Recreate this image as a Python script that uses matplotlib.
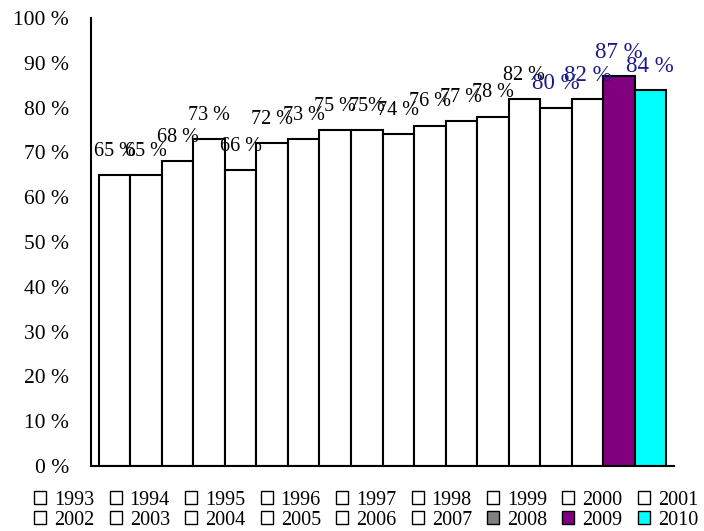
import numpy as np
import matplotlib.pyplot as plt
from matplotlib.patches import Patch

plt.rcParams['font.family'] = ['Liberation Serif', 'DejaVu Serif']

years = [str(y) for y in range(1993, 2011)]
values = [65, 65, 68, 73, 66, 72, 73, 75, 75, 74, 76, 77, 78, 82, 80, 82, 87, 84]
labels = ["65 %", "65 %", "68 %", "73 %", "66 %", "72 %", "73 %", "75 %", "75%",
          "74 %", "76 %", "77 %", "78 %", "82 %", "80 %", "82 %", "87 %", "84 %"]
bar_colors = ['white'] * 16 + ['#800080', '#00ffff']
legend_colors = ['white'] * 15 + ['#808080', '#800080', '#00ffff']
label_colors = ['black'] * 14 + ['#1a1a8c'] * 4
yticks = list(range(0, 101, 10))

fig = plt.figure(figsize=(7.04, 5.31), dpi=100)
ax = fig.add_axes([91 / 704, 1 - 466 / 531, (674 - 91) / 704, (466 - 18) / 531])

x = np.arange(len(values))
ax.bar(x, values, width=1.0, color=bar_colors, edgecolor='black', linewidth=1.5)

for i, v in enumerate(values):
    big = label_colors[i] != 'black'
    ax.annotate(labels[i], (x[i], v), xytext=(0, 17), textcoords='offset points',
                ha='center', va='center', color=label_colors[i],
                fontsize=16.5 if big else 14.5)

ax.set_xlim(-0.75, len(values) - 0.25)
ax.set_ylim(0, 100)
ax.set_yticks(yticks)
ax.set_yticklabels([f"{t} %" for t in yticks], fontsize=15.5)
ax.set_xticks([])
ax.tick_params(axis='y', length=0, pad=16)
for s in ['top', 'right']:
    ax.spines[s].set_visible(False)
ax.spines['left'].set_linewidth(1.5)
ax.spines['bottom'].set_linewidth(1.5)

handles = [Patch(facecolor=c, edgecolor='black', linewidth=1) for c in legend_colors]
# legend fills column by column, so interleave the two rows
order = []
for j in range(9):
    order += [j, j + 9]
fig.legend([handles[k] for k in order], [years[k] for k in order],
           ncol=9, loc='center', bbox_to_anchor=(0.52, 0.039), frameon=False,
           fontsize=14.5, handlelength=0.6, handleheight=0.6, handletextpad=0.4,
           columnspacing=0.75, labelspacing=0.05, borderpad=0)

fig.savefig('out.png', dpi=100)
